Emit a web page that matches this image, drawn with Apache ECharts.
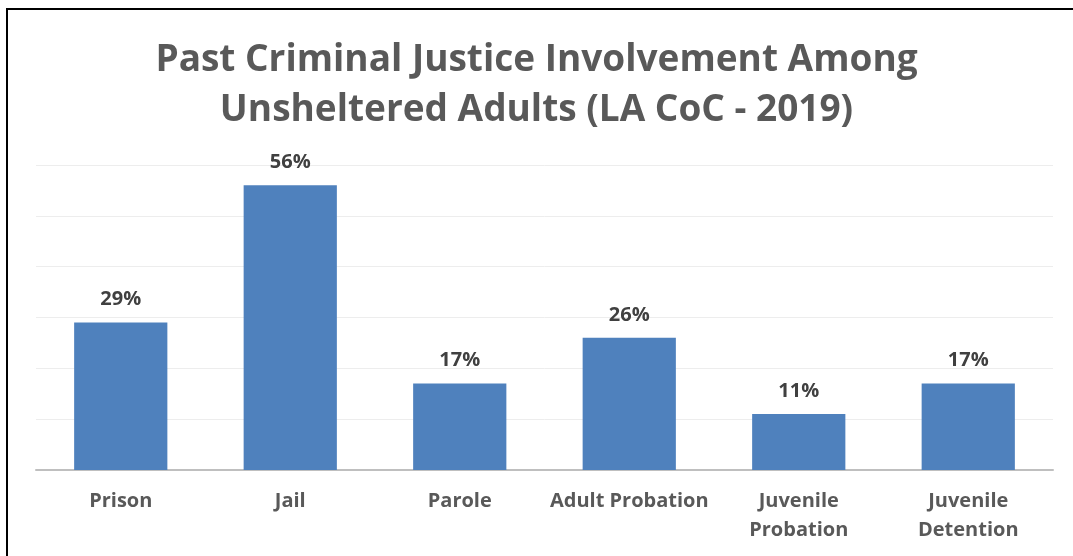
<!DOCTYPE html>
<html>
<head>
<meta charset="utf-8">
<script src="https://cdn.jsdelivr.net/npm/echarts@6/dist/echarts.min.js"></script>
<style>
  html, body { margin: 0; padding: 0; background: #fff; }
  #frame {
    position: absolute; left: 6px; top: 8px; width: 1067px; height: 548px;
    border-left: 2px solid #000; border-top: 2px solid #000;
    box-sizing: border-box;
  }
  #chart { position: absolute; left: 0; top: 0; width: 1073px; height: 556px; }
</style>
</head>
<body>
<div id="chart"></div>
<div id="frame"></div>
<script>
const categories = ['Prison', 'Jail', 'Parole', 'Adult Probation', 'Juvenile\nProbation', 'Juvenile\nDetention'];
const shares = [29, 56, 17, 26, 11, 17];
const axisMax = 60;
const axisStep = 10;

const chart = echarts.init(document.getElementById('chart'));
chart.setOption({
  animation: false,
  backgroundColor: '#fff',
  title: {
    text: 'Past Criminal Justice Involvement Among\nUnsheltered Adults (LA CoC - 2019)',
    left: 'center',
    top: 30,
    textStyle: {
      fontFamily: 'Open Sans',
      fontWeight: 'bold',
      fontSize: 37,
      lineHeight: 50,
      color: '#595959'
    }
  },
  grid: { left: 36, right: 20, top: 165, bottom: 86 },
  xAxis: {
    type: 'category',
    data: categories,
    axisLine: { lineStyle: { color: '#BFBFBF', width: 2 } },
    axisTick: { show: false },
    axisLabel: {
      interval: 0,
      margin: 17,
      fontFamily: 'Open Sans',
      fontWeight: 'bold',
      fontSize: 20,
      lineHeight: 29,
      color: '#595959'
    }
  },
  yAxis: {
    type: 'value',
    min: 0,
    max: axisMax,
    interval: axisStep,
    axisLabel: { show: false },
    axisLine: { show: false },
    axisTick: { show: false },
    splitLine: { lineStyle: { color: '#EDEDED', width: 1 } }
  },
  series: [{
    type: 'bar',
    data: shares,
    barWidth: '55%',
    itemStyle: { color: '#4F81BD' },
    label: {
      show: true,
      position: 'top',
      distance: 13,
      formatter: p => p.value + '%',
      fontFamily: 'Open Sans',
      fontWeight: 'bold',
      fontSize: 20,
      color: '#404040'
    }
  }]
});
</script>
</body>
</html>
